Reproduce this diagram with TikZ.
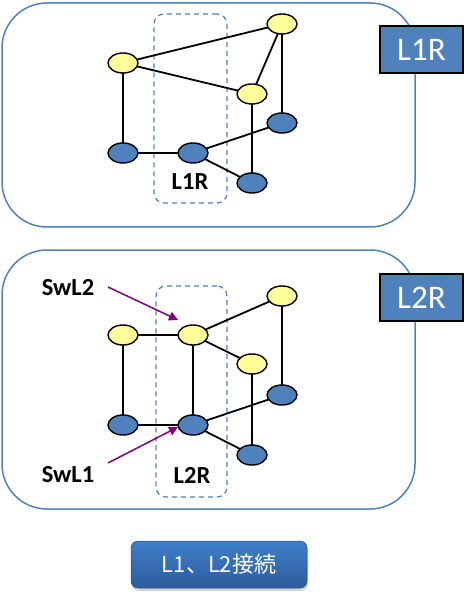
\documentclass[tikz,border=0pt]{standalone}
\usepackage{fontspec}
\setmainfont{Carlito}
\newfontfamily\cjk{Noto Sans CJK JP}
\usetikzlibrary{shapes.geometric,arrows.meta,shadows}
\definecolor{frame}{HTML}{4F81BD}
\definecolor{nodeblue}{HTML}{4F81BD}
\definecolor{nodeyel}{HTML}{FFFF99}
\definecolor{arrpurple}{HTML}{800080}
\definecolor{btntop}{HTML}{3F7FCB}
\definecolor{btnbot}{HTML}{2E5C9C}
\tikzset{
  panel/.style={draw=frame, line width=1.5pt, rounded corners=45pt},
  dashbox/.style={draw=frame, line width=1.2pt, dashed, dash pattern=on 5pt off 4pt, rounded corners=10pt},
  tag/.style={draw=black, line width=2pt, fill=nodeblue, text=white, minimum width=83pt, minimum height=47pt, inner sep=0pt, font=\fontsize{33}{35}\selectfont},
  ynode/.style={ellipse, draw=black, line width=1.4pt, fill=nodeyel, minimum width=30pt, minimum height=20pt, inner sep=0pt},
  bnode/.style={ellipse, draw=black, line width=1.4pt, fill=nodeblue, minimum width=30pt, minimum height=20pt, inner sep=0pt},
  link/.style={draw=black, line width=1.8pt},
  lbl/.style={font=\bfseries\fontsize{24.5}{26}\selectfont, text=black, inner sep=0pt},
  swarrow/.style={draw=arrpurple, line width=1.5pt, -{Triangle[length=9pt,width=9pt]}},
}
\begin{document}
\begin{tikzpicture}[x=1pt,y=-1pt]
\useasboundingbox (0,0) rectangle (467,601);
% ---------- top panel ----------
\draw[panel] (2,3) rectangle (415,227);
\node[dashbox, minimum width=73pt, minimum height=189pt] (d1) at (190.5,108.5) {};
\node[lbl] (t1) at (190,182) {L1R};
\coordinate (y1p) at (282,24);
\coordinate (y2p) at (123,63);
\coordinate (y3p) at (252,94);
\coordinate (b1p) at (282,123);
\coordinate (b2p) at (123,153);
\coordinate (b3p) at (193,153);
\coordinate (b4p) at (252,183);
\draw[link] (y2p) -- (y1p) (y2p) -- (y3p) (y1p) -- (y3p) (y1p) -- (b1p)
  (y2p) -- (b2p) (y3p) -- (b4p) (b2p) -- (b3p) (b3p) -- (b1p) (b3p) -- (b4p);
\node[ynode] (ay1) at (y1p) {};
\node[ynode] (ay2) at (y2p) {};
\node[ynode] (ay3) at (y3p) {};
\node[bnode] (ab1) at (b1p) {};
\node[bnode] (ab2) at (b2p) {};
\node[bnode] (ab3) at (b3p) {};
\node[bnode] (ab4) at (b4p) {};
\node[tag] (tag1) at (421.5,49.5) {L1R};
% ---------- bottom panel ----------
\draw[panel] (2,250) rectangle (415,509);
\node[dashbox, minimum width=71pt, minimum height=211pt] (d2) at (191.5,391.5) {};
\node[lbl] (t2) at (192,475) {L2R};
\coordinate (cy1) at (282,296);
\coordinate (cy2) at (123,335);
\coordinate (cy3) at (193,335);
\coordinate (cy4) at (252,364);
\coordinate (cb1) at (282,395);
\coordinate (cb2) at (123,425);
\coordinate (cb3) at (193,425);
\coordinate (cb4) at (252,455);
\draw[link] (cy2) -- (cy3) (cy3) -- (cy1) (cy3) -- (cy4) (cy1) -- (cb1)
  (cy2) -- (cb2) (cy3) -- (cb3) (cy4) -- (cb4) (cb2) -- (cb3) (cb3) -- (cb1) (cb3) -- (cb4);
\node[ynode] (by1) at (cy1) {};
\node[ynode] (by2) at (cy2) {};
\node[ynode] (by3) at (cy3) {};
\node[ynode] (by4) at (cy4) {};
\node[bnode] (bb1) at (cb1) {};
\node[bnode] (bb2) at (cb2) {};
\node[bnode] (bb3) at (cb3) {};
\node[bnode] (bb4) at (cb4) {};
\node[lbl] (sw2) at (68,288) {SwL2};
\node[lbl] (sw1) at (68,475) {SwL1};
\coordinate (a2s) at (108,287);
\coordinate (a2e) at (178,320);
\coordinate (a1s) at (108,463);
\coordinate (a1e) at (178,427);
\draw[swarrow] (a2s) -- (a2e);
\draw[swarrow] (a1s) -- (a1e);
\node[tag] (tag2) at (421.5,297.5) {L2R};
% ---------- button ----------
\node[rounded corners=7pt, top color=btntop, bottom color=btnbot, draw=btnbot!80!black, line width=0.5pt,
  drop shadow={shadow xshift=1pt, shadow yshift=-3pt, opacity=0.35},
  minimum width=176pt, minimum height=47pt, inner sep=0pt, text=white,
  font=\cjk\fontsize{22}{24}\selectfont] (btn) at (219,564.5) {L1、L2接続};
\end{tikzpicture}
\end{document}
